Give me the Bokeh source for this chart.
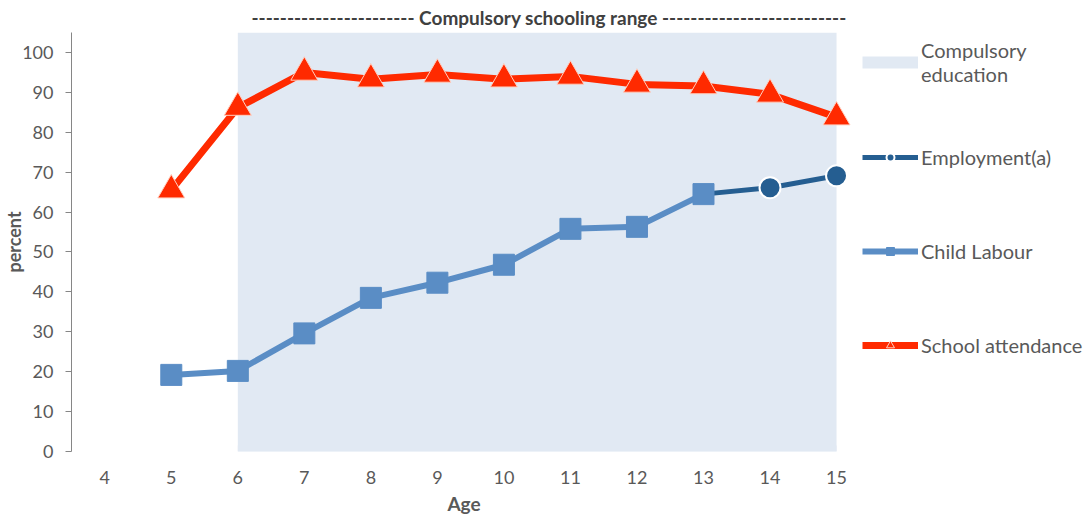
from bokeh.plotting import figure
from bokeh.models import Range1d, FixedTicker, Legend, LegendItem
from bokeh.embed import file_html
from bokeh.resources import INLINE

# ---- data ----
ages = [4, 5, 6, 7, 8, 9, 10, 11, 12, 13, 14, 15]
compulsory_start = 6
compulsory_end = 15
attend_age = [5, 6, 7, 8, 9, 10, 11, 12, 13, 14, 15]
attendance = [65.5, 86.2, 95.0, 93.3, 94.5, 93.3, 94.0, 92.0, 91.6, 89.5, 83.8]
labour_age = [5, 6, 7, 8, 9, 10, 11, 12, 13]
child_labour = [19.2, 20.2, 29.6, 38.5, 42.3, 46.8, 55.8, 56.3, 64.5]
employ_age = [13, 14, 15]
employment = [64.5, 66.1, 69.1]
y_ticks = [0, 10, 20, 30, 40, 50, 60, 70, 80, 90, 100]
range_title = "-" * 23 + " Compulsory schooling range " + "-" * 26

FONT = "Lato"
TXT = "#595959"
RED = "#FF2A00"
LBLUE = "#5A8DC5"
DBLUE = "#255E91"
BAND = "#E1E9F3"

p = figure(frame_width=785, frame_height=419, output_backend="svg", toolbar_location=None,
           x_range=Range1d(3.5, 15.3), y_range=Range1d(0, 105),
           min_border_left=63, min_border_right=0, min_border_top=0, min_border_bottom=0)
p.outline_line_color = None
p.grid.visible = False
p.background_fill_color = "white"

# title (range marker)
p.title.text = range_title
p.title.align = "left"
p.title.offset = 180
p.title.standoff = 7
p.title.text_font = FONT
p.title.text_font_size = "19px"
p.title.text_font_style = "bold"
p.title.text_color = "#404040"

# compulsory band
p.quad(left=[compulsory_start], right=[compulsory_end], bottom=[0], top=[105],
       fill_color=BAND, line_color=None)
band_proxy = p.line([compulsory_start, compulsory_end], [0, 0], line_color=BAND, line_width=12)

# series
cl_line = p.line(labour_age, child_labour, line_color=LBLUE, line_width=6)
em_line = p.line(employ_age, employment, line_color=DBLUE, line_width=5)
cl_mark = p.scatter(labour_age, child_labour, marker="square", size=21,
                    fill_color=LBLUE, line_color=LBLUE, line_width=1)
em_mark = p.scatter(employ_age[1:], employment[1:], marker="circle", size=21,
                    fill_color=DBLUE, line_color="white", line_width=2)
sa_line = p.line(attend_age, attendance, line_color=RED, line_width=7)
sa_mark = p.scatter(attend_age, attendance, marker="triangle", size=27,
                    fill_color=RED, line_color="#FFD0C0", line_width=1)

# axes
p.xaxis.ticker = FixedTicker(ticks=ages)
p.xaxis.axis_line_color = None
p.xaxis.major_tick_line_color = None
p.xaxis.minor_tick_line_color = None
p.xaxis.major_label_standoff = 13
p.xaxis.major_label_text_font = FONT
p.xaxis.major_label_text_font_size = "18px"
p.xaxis.major_label_text_color = TXT
p.xaxis.axis_label = "Age"
p.xaxis.axis_label_text_font = FONT
p.xaxis.axis_label_text_font_size = "19px"
p.xaxis.axis_label_text_font_style = "bold"
p.xaxis.axis_label_text_color = TXT
p.xaxis.axis_label_standoff = 5

p.yaxis.ticker = FixedTicker(ticks=y_ticks)
p.yaxis.axis_line_color = "#868686"
p.yaxis.major_tick_line_color = "#868686"
p.yaxis.major_tick_out = 6
p.yaxis.major_tick_in = 0
p.yaxis.minor_tick_line_color = None
p.yaxis.major_label_standoff = 12
p.yaxis.major_label_text_font = FONT
p.yaxis.major_label_text_font_size = "18px"
p.yaxis.major_label_text_color = TXT
p.yaxis.axis_label = "percent"
p.yaxis.axis_label_text_font = FONT
p.yaxis.axis_label_text_font_size = "18px"
p.yaxis.axis_label_text_font_style = "bold"
p.yaxis.axis_label_text_color = TXT
p.yaxis.axis_label_standoff = -6

legend = Legend(items=[
    LegendItem(label="Compulsory\neducation", renderers=[band_proxy]),
    LegendItem(label="Employment(a)", renderers=[em_line, em_mark]),
    LegendItem(label="Child Labour", renderers=[cl_line, cl_mark]),
    LegendItem(label="School attendance", renderers=[sa_line, sa_mark]),
], location="top_left")
legend.border_line_color = None
legend.background_fill_alpha = 0
legend.label_text_font = FONT
legend.label_text_font_size = "20px"
legend.label_text_color = TXT
legend.glyph_width = 56
legend.glyph_height = 20
legend.label_height = 46
legend.label_standoff = 3
legend.spacing = 48
legend.padding = 0
legend.margin = 6
p.add_layout(legend, "right")

open("out.html", "w").write(file_html(p, INLINE))
